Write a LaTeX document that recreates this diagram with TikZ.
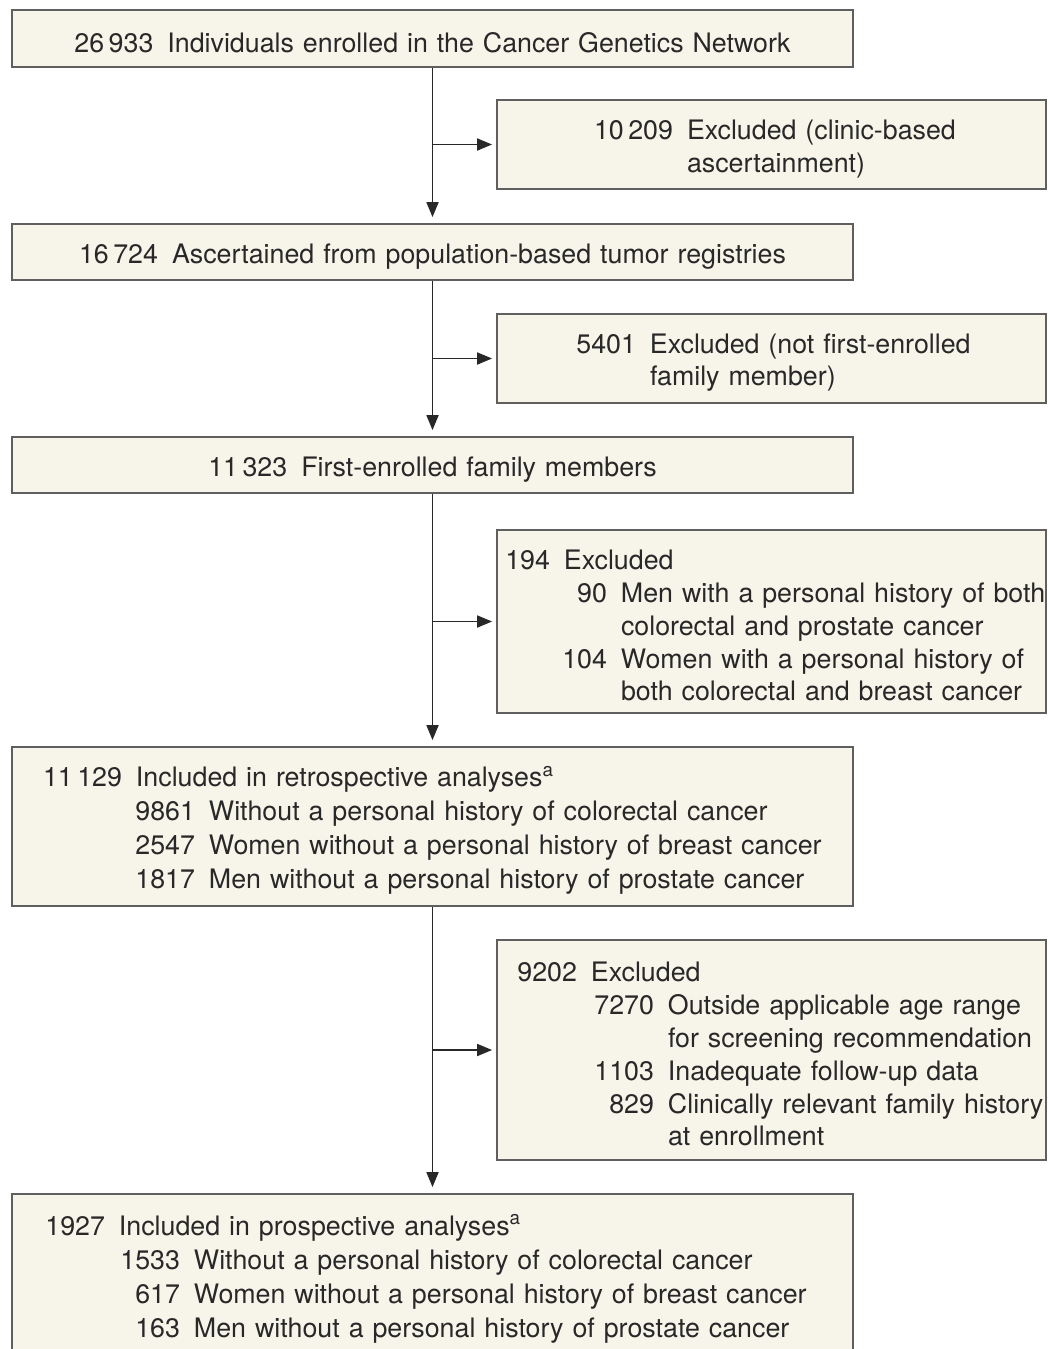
\documentclass[tikz,border=0pt]{standalone}
\usepackage{fontspec}
\setmainfont{TeX Gyre Heros}
\usepackage{xcolor}
\definecolor{boxfill}{RGB}{247, 244, 233}
\definecolor{boxdraw}{RGB}{95, 95, 95}
\definecolor{inkgray}{RGB}{40, 40, 40}
\usetikzlibrary{arrows.meta, positioning}
\newcommand{\flowfont}{\fontsize{13.4pt}{17pt}\selectfont}
\newcommand{\exclfont}{\fontsize{13.4pt}{16.4pt}\selectfont}
\newcommand{\cnt}[3]{\mbox{\makebox[#1][r]{#2}\hspace{7pt}#3}}
\newcommand{\cont}[2]{\mbox{\hspace*{\dimexpr#1+7pt\relax}#2}}

\begin{document}
\begin{tikzpicture}[x=0.5pt, y=-0.5pt,
        stage/.style={rectangle, draw=boxdraw, fill=boxfill, line width=0.9pt, inner sep=0pt, minimum width=420.5pt, text width=420.5pt, align=center, font=\flowfont, text=inkgray, execute at begin node={\rule{0pt}{14pt}}},
        excl/.style={rectangle, draw=boxdraw, fill=boxfill, line width=0.9pt, inner sep=0pt, minimum width=274.5pt, text width=274.5pt, align=left, font=\exclfont, text=inkgray, execute at begin node={\rule{0pt}{14pt}}},
        line/.style={draw=inkgray, line width=0.9pt, -{Triangle[length=7.5pt, width=6pt]}}]

    \useasboundingbox (0,0) rectangle (1048,1349);

    % main column
    \node [stage, minimum height=28.5pt] (enrolled) at (432.5,38.5) {26\,933\hspace{7pt}Individuals enrolled in the Cancer Genetics Network};
    \node [stage, minimum height=28pt] (registry) at (432.5,252) {16\,724\hspace{7pt}Ascertained from population-based tumor registries};
    \node [stage, minimum height=28pt] (firstfam) at (432.5,465) {11\,323\hspace{7pt}First-enrolled family members};
    \node [stage, align=left, minimum height=79.5pt] (retro) at (432.5,826.5) {%
        \cnt{55pt}{11\,129}{Included in retrospective analyses\textsuperscript{a}}\\
        \cnt{91.5pt}{9861}{Without a personal history of colorectal cancer}\\
        \cnt{91.5pt}{2547}{Women without a personal history of breast cancer}\\
        \cnt{91.5pt}{1817}{Men without a personal history of prostate cancer}};
    \node [stage, align=left, minimum height=81pt] (prosp) at (432.5,1275) {%
        \cnt{46.5pt}{1927}{Included in prospective analyses\textsuperscript{a}}\\
        \cnt{84pt}{1533}{Without a personal history of colorectal cancer}\\
        \cnt{84pt}{617}{Women without a personal history of breast cancer}\\
        \cnt{84pt}{163}{Men without a personal history of prostate cancer}};

    % exclusions
    \node [excl, minimum height=44.5pt] (clinic) at (771.5,144.5) {%
        \cnt{88pt}{10\,209}{Excluded (clinic-based}\\
        \cont{88pt}{ascertainment)}};
    \node [excl, minimum height=44.5pt] (notfirst) at (771.5,358.5) {%
        \cnt{69.5pt}{5401}{Excluded (not first-enrolled}\\
        \cont{69.5pt}{family member)}};
    \node [excl, minimum height=91.5pt] (bothca) at (771.5,621.5) {%
        \cnt{26.5pt}{194}{Excluded}\\
        \cnt{55pt}{90}{Men with a personal history of both}\\
        \cont{55pt}{colorectal and prostate cancer}\\
        \cnt{55pt}{104}{Women with a personal history of}\\
        \cont{55pt}{both colorectal and breast cancer}};
    \node [excl, minimum height=110pt] (agerange) at (771.5,1050) {%
        \cnt{40pt}{9202}{Excluded}\\
        \cnt{78.5pt}{7270}{Outside applicable age range}\\
        \cont{78.5pt}{for screening recommendation}\\
        \cnt{78.5pt}{1103}{Inadequate follow-up data}\\
        \cnt{78.5pt}{829}{Clinically relevant family history}\\
        \cont{78.5pt}{at enrollment}};

    % connectors
    \path [line, shorten >=3pt] (enrolled) -- (registry);
    \path [line, shorten >=3pt] (registry) -- (firstfam);
    \path [line, shorten >=3pt] (firstfam) -- (retro);
    \path [line, shorten >=3pt] (retro) -- (prosp);
    \path [line, shorten >=2pt] (enrolled.south |- clinic.west) -- (clinic.west);
    \path [line, shorten >=2pt] (registry.south |- notfirst.west) -- (notfirst.west);
    \path [line, shorten >=2pt] (firstfam.south |- bothca.west) -- (bothca.west);
    \path [line, shorten >=2pt] (retro.south |- agerange.west) -- (agerange.west);
\end{tikzpicture}
\end{document}
